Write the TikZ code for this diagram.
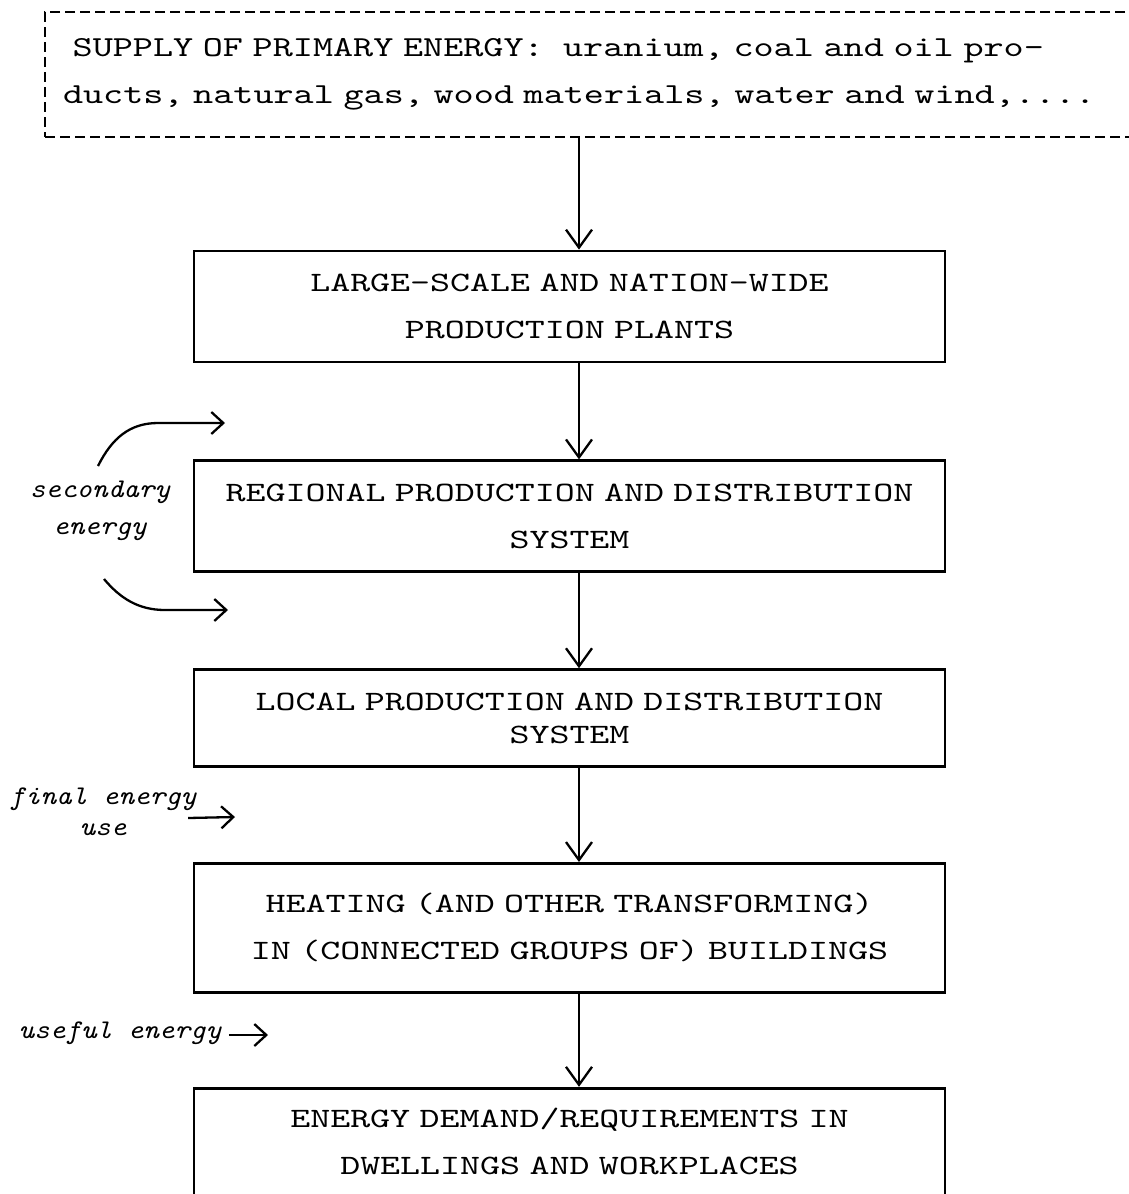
\documentclass[tikz,border=0pt]{standalone}
\usepackage{fontspec}
\newfontfamily\stagefont{lmmono10-regular.otf}[FakeStretch=1.36]
\newfontfamily\supplyfont{lmmono10-regular.otf}[FakeStretch=1.32]
\newfontfamily\notefont{lmmono10-italic.otf}[FakeStretch=1.1]
\newcommand\widespace[1]{\fontdimen2\font=#1\fontdimen3\font=0pt\fontdimen4\font=0pt\relax}
\newcommand\stagetype[1]{\stagefont\fontsize{28}{#1}\selectfont\widespace{19.2pt}}
\newcommand\supplytype{\supplyfont\fontsize{29}{47}\selectfont\widespace{19.1pt}}
\newcommand\notetype[1]{\notefont\fontsize{27}{#1}\selectfont\widespace{15.6pt}}
\usepackage{tikz}
\usetikzlibrary{positioning,arrows.meta}
\tikzset{
  stage/.style={
    rectangle,
    draw=black, line width=2.8pt,
    minimum width=751pt,
    inner sep=8pt,
    text width=735pt,
    align=center,
    font=\stagetype{47}},
  supplybox/.style={
    rectangle,
    draw=black, line width=2.8pt,
    dash pattern=on 10pt off 5pt,
    minimum width=1115pt,
    minimum height=125pt,
    inner xsep=18pt,
    text width=1079pt,
    align=left,
    font=\supplytype},
  flow/.style={-{Straight Barb[length=18pt,width=26pt]}, line width=2.3pt},
  sidenote/.style={align=center, font=\notetype{37}},
  sidearrow/.style={-{Straight Barb[length=12pt,width=22pt]}, line width=2.3pt},
}

\begin{document}
\begin{tikzpicture}[x=1pt, y=-1pt]
  \useasboundingbox (0,0) rectangle (1129,1194);
  \clip (0,0) rectangle (1129,1194);

  % primary energy, right side runs off the page
  \node[supplybox] (supply) at (602.5,74.5)
    {~SUPPLY OF PRIMARY ENERGY:~~uranium, coal and oil pro-\\
     ducts, natural gas, wood materials, water and wind,....};

  % the chain of stages
  \node[stage, minimum height=111pt] (plants) at (569.5,306.5)
    {LARGE-SCALE AND NATION-WIDE\\PRODUCTION PLANTS};
  \node[stage, minimum height=111pt, below=96pt of plants] (regional)
    {REGIONAL PRODUCTION AND DISTRIBUTION\\SYSTEM};
  \node[stage, minimum height=97pt, below=95pt of regional,
        font=\stagetype{33}] (local)
    {LOCAL PRODUCTION AND DISTRIBUTION\\SYSTEM};
  \node[stage, minimum height=129pt, below=94pt of local] (heating)
    {HEATING (AND OTHER TRANSFORMING)\\IN (CONNECTED GROUPS OF) BUILDINGS};
  \node[stage, minimum height=107pt, below=93pt of heating] (demand)
    {ENERGY DEMAND/REQUIREMENTS IN\\DWELLINGS AND WORKPLACES};

  \coordinate (axis) at (579,0);
  \draw[flow] (supply.south -| axis) -- (plants.north -| axis);
  \draw[flow] (plants.south -| axis) -- (regional.north -| axis);
  \draw[flow] (regional.south -| axis) -- (local.north -| axis);
  \draw[flow] (local.south -| axis) -- (heating.north -| axis);
  \draw[flow] (heating.south -| axis) -- (demand.north -| axis);

  % notes on the left
  \node[sidenote] (secondary) at (100,511) {secondary\\energy};
  \node[sidenote, font=\notetype{31}] (final) at (103,812) {final energy\\use};
  \node[sidenote] (useful) at (120,1033) {useful energy};

  \coordinate (secA) at (98,466);
  \coordinate (secAtip) at (225,423);
  \coordinate (secB) at (104,579);
  \coordinate (secBtip) at (228,610);
  \coordinate (finaltip) at (235,817);
  \coordinate (usefultip) at (268,1035);

  \draw[sidearrow] (secA) .. controls (112,438) and (130,423) .. (158,423) -- (secAtip);
  \draw[sidearrow] (secB) .. controls (120,598) and (138,610) .. (165,610) -- (secBtip);
  \draw[sidearrow] (finaltip -| final.east) ++(-12,1) -- (finaltip);
  \draw[sidearrow] (usefultip -| useful.east) ++(4,0) -- (usefultip);
\end{tikzpicture}
\end{document}
